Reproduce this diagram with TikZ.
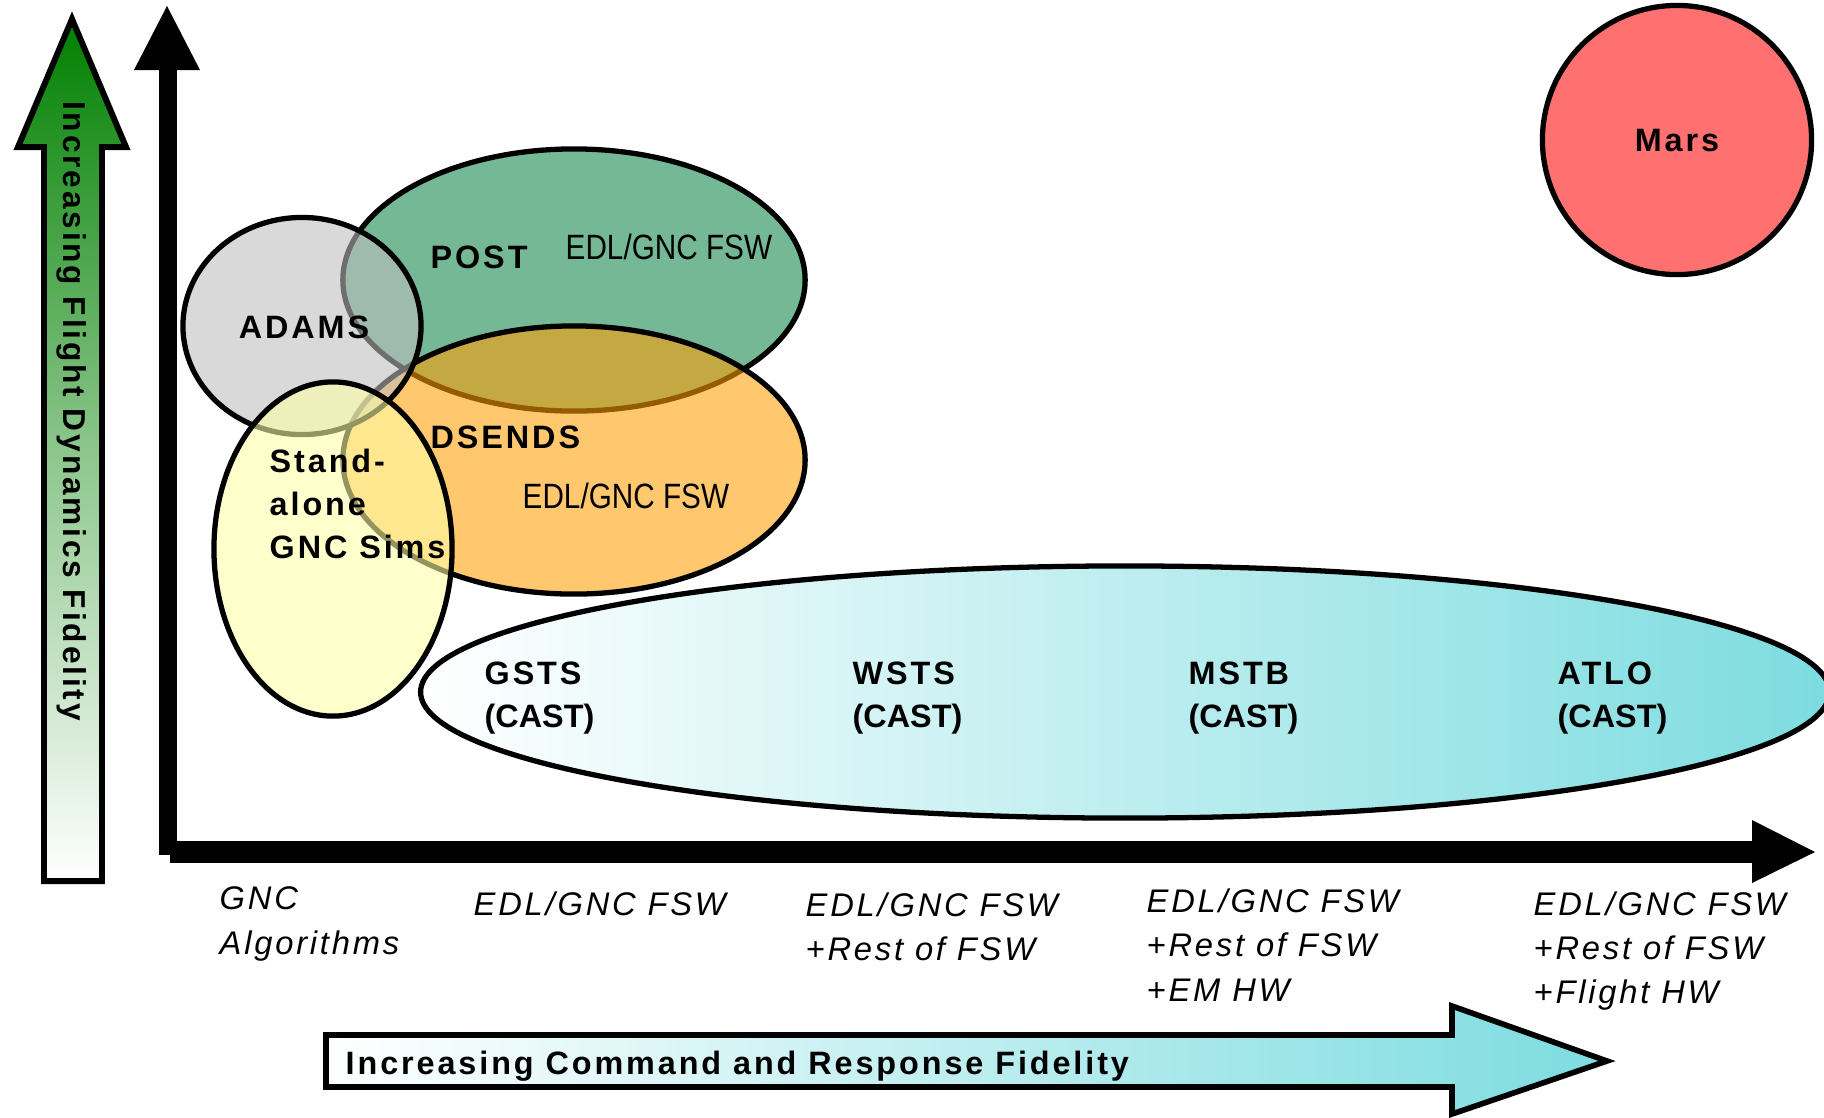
\documentclass[tikz,border=0pt]{standalone}
\usepackage{fontspec}
\setmainfont{Liberation Sans}
\newfontfamily\widefont[LetterSpace=9]{Liberation Sans}
\newfontfamily\slantfont[LetterSpace=8.5]{Liberation Sans}
\newfontfamily\narrowfont[FakeStretch=0.845]{Liberation Sans}
\usetikzlibrary{shapes.geometric, positioning}
\definecolor{postgreen}{RGB}{116,184,150}
\definecolor{dsorange}{RGB}{255,158,5}
\definecolor{adamsgray}{RGB}{190,190,190}
\definecolor{simyellow}{RGB}{255,255,167}
\definecolor{castcyan}{RGB}{125,220,224}
\definecolor{marsred}{RGB}{255,112,112}
\definecolor{flightgreen}{RGB}{0,128,0}
\tikzset{
    blob/.style = {ellipse, draw=black, line width=1.5pt, inner sep=0pt},
    seethru/.style = {blob, fill opacity=0.58},
    tag/.style = {inner sep=0pt, align=left, font=\fontsize{9.2}{12.2}\selectfont\widefont\bfseries},
    fsw/.style = {inner sep=0pt, font=\fontsize{10}{12}\selectfont\narrowfont},
    axislabel/.style = {inner sep=0pt, align=left, font=\fontsize{9.3}{12.6}\selectfont\slantfont\itshape},
}

\begin{document}
\begin{tikzpicture}[x=0.01cm, y=-0.01cm]
\useasboundingbox (0,0) rectangle (1824,1117);

% Fidelity arrows
\shadedraw[top color=flightgreen, bottom color=white, middle color=flightgreen!45, draw=black, line width=1.7pt]
    (44,881) -- (44,147) -- (18,147) -- (72,19) -- (126,147) -- (102,147) -- (102,881) -- cycle;
\node[tag, font=\fontsize{9}{11}\selectfont\widefont\bfseries, rotate=-90] (flighttxt) at (72,411) {Increasing Flight Dynamics Fidelity};
\shadedraw[left color=white, right color=castcyan, draw=black, line width=1.6pt]
    (326,1035) -- (1452,1035) -- (1452,1006) -- (1607,1061) -- (1452,1114) -- (1452,1087) -- (326,1087) -- cycle;
\node[tag, anchor=west] (cmdtxt) at (345,1066) {Increasing Command and Response Fidelity};

% Axes
\fill (159,855) rectangle (177,68);
\fill (134,70) -- (167,6) -- (200,70) -- cycle;
\fill (170,841) rectangle (1754,863);
\fill (1752,820) -- (1815,852) -- (1752,883) -- cycle;

% Simulation sets
\node[blob, left color=white, right color=castcyan, minimum width=14.08cm, minimum height=2.52cm] (cast) at (1125,692) {};
\node[blob, fill=postgreen, minimum width=4.62cm, minimum height=2.62cm] (post) at (574,280) {};
\node[seethru, fill=dsorange, minimum width=4.62cm, minimum height=2.68cm] (dsends) at (574,460) {};
\node[seethru, fill=adamsgray, minimum width=2.38cm, minimum height=2.17cm] (adams) at (302,326) {};
\node[seethru, fill=simyellow, minimum width=2.38cm, minimum height=3.34cm] (gncsims) at (333,549) {};
\node[circle, draw=black, line width=1.5pt, fill=marsred, minimum size=2.69cm, inner sep=0pt] (mars) at (1677,140) {};

% Labels
\node[tag] (adamstxt) at (304,327) {ADAMS};
\node[tag, anchor=west] (posttxt) at (430,257) {POST};
\node[fsw, anchor=west] (postfsw) at (565,247) {EDL/GNC FSW};
\node[tag, anchor=west] (dsendstxt) at (430,437) {DSENDS};
\node[fsw, anchor=west] (dsendsfsw) at (522,496) {EDL/GNC FSW};
\node[tag, anchor=west] (simstxt) at (269,504) {Stand-\\alone\\GNC Sims};
\node[tag, anchor=west] (gsts) at (484,698) {GSTS\\{\rmfamily\bfseries(CAST)}};
\node[tag, anchor=west] (wsts) at (852,698) {WSTS\\{\rmfamily\bfseries(CAST)}};
\node[tag, anchor=west] (mstb) at (1188,698) {MSTB\\{\rmfamily\bfseries(CAST)}};
\node[tag, anchor=west] (atlo) at (1557,698) {ATLO\\{\rmfamily\bfseries(CAST)}};
\node[tag] (marstxt) at (1677,141) {Mars};

% Axis levels
\node[axislabel, anchor=west] (algos) at (219,924) {GNC\\Algorithms};
\node[axislabel, anchor=west] (lvlone) at (473,904) {EDL/GNC FSW};
\node[axislabel, anchor=west] (lvltwo) at (805,927) {EDL/GNC FSW\\+Rest of FSW};
\node[axislabel, anchor=west] (lvlthree) at (1146,945) {EDL/GNC FSW\\+Rest of FSW\\+EM HW};
\node[axislabel, anchor=west] (lvlfour) at (1533,951) {EDL/GNC FSW\\+Rest of FSW\\+Flight HW};
\end{tikzpicture}
\end{document}
